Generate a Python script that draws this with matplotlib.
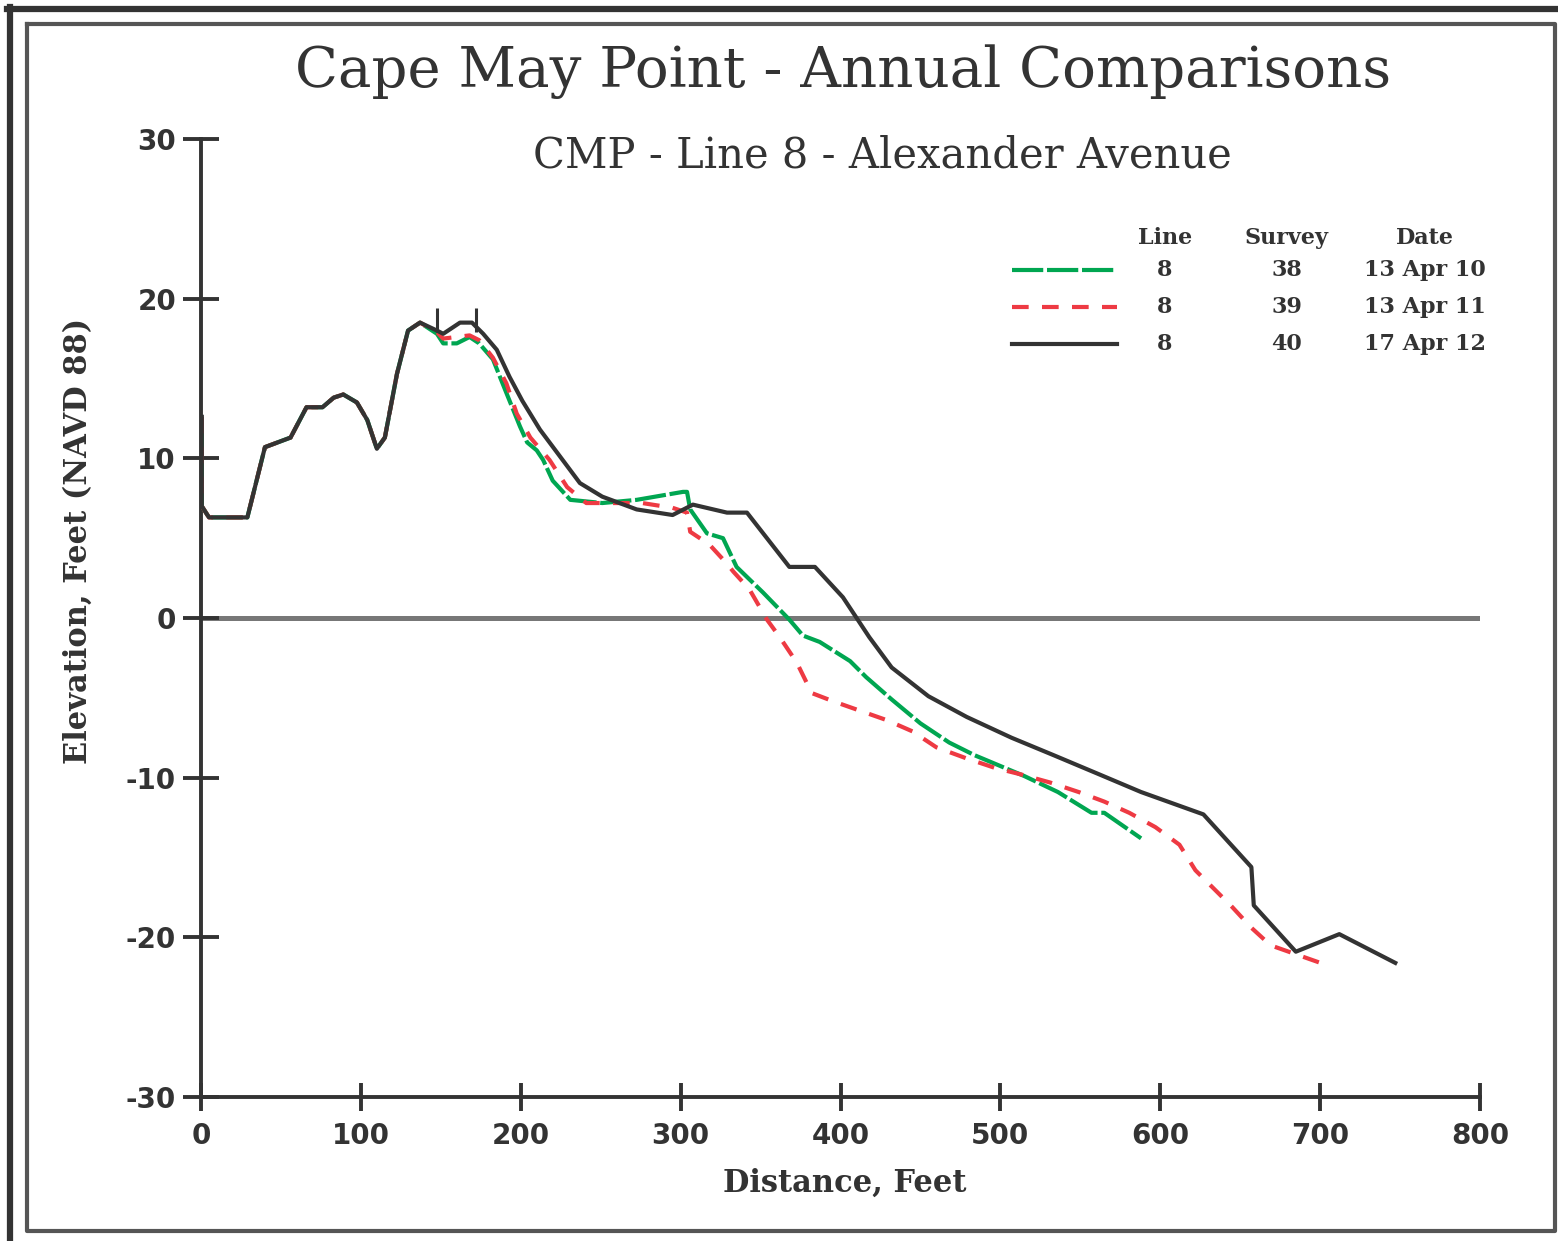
import matplotlib
matplotlib.use("Agg")
import matplotlib.pyplot as plt
from matplotlib.lines import Line2D

plt.rcParams["axes.unicode_minus"] = False

W, H = 1558, 1241
DPI = 100

# ---------------- data ----------------
common_x = [0.5, 0.5, 5, 29, 40, 56, 66, 76, 83, 89, 97.5, 104, 110, 115, 122.6, 129.5, 137]
common_y = [12.6, 7.0, 6.3, 6.3, 10.7, 11.3, 13.2, 13.2, 13.8, 14.0, 13.5, 12.4, 10.6, 11.3, 15.3, 18.0, 18.5]

s38_x = common_x + [147.6, 151.5, 160, 168, 174, 182.6, 191, 199.5, 204, 210, 214, 220, 231, 251,
                    272.5, 301.5, 304, 306, 316.5, 326.5, 335, 351.5, 368, 376.5, 387, 406, 416,
                    432, 450, 468, 484, 515, 536, 557, 565, 588]
s38_y = common_y + [17.8, 17.2, 17.2, 17.6, 17.2, 16.2, 14.1, 12.0, 11.0, 10.5, 9.9, 8.6, 7.4, 7.2,
                    7.4, 7.9, 7.9, 6.8, 5.3, 5.0, 3.2, 1.6, -0.1, -1.1, -1.5, -2.7, -3.7,
                    -5.1, -6.6, -7.8, -8.6, -9.9, -10.9, -12.2, -12.2, -13.8]

s39_x = common_x + [147.6, 151.5, 168, 174, 182.6, 191, 197.5, 206, 218, 229, 241, 276, 295, 304,
                    306, 318, 329, 333, 343, 354, 362, 372.7, 382, 395, 412, 429, 445, 460, 479,
                    497, 513, 531, 549, 565, 580.6, 597, 612, 622, 632, 645, 657, 669, 686, 703]
s39_y = common_y + [17.9, 17.5, 17.7, 17.4, 16.3, 14.7, 12.8, 11.3, 9.9, 8.2, 7.2, 7.2, 6.9, 6.6,
                    5.4, 4.6, 3.4, 2.9, 1.8, -0.1, -1.2, -2.8, -4.7, -5.2, -5.8, -6.4, -7.1, -8.1, -8.8,
                    -9.4, -9.8, -10.3, -10.9, -11.5, -12.2, -13.1, -14.2, -15.8, -16.8, -18.1, -19.4, -20.5, -21.1, -21.7]

s40_x = common_x + [147.6, 151.5, 162, 169.5, 176.5, 185, 193, 201, 212, 237, 251, 272.5, 295, 307.7,
                    329, 341.5, 368, 384, 401.5, 418, 432, 455, 479, 507, 533.5, 562, 588, 627,
                    657, 658.5, 684.8, 712, 747]
s40_y = common_y + [18.0, 17.8, 18.5, 18.5, 17.8, 16.8, 15.1, 13.6, 11.8, 8.45, 7.6, 6.8, 6.45, 7.1,
                    6.6, 6.6, 3.2, 3.2, 1.3, -1.2, -3.1, -4.9, -6.2, -7.5, -8.6, -9.8, -10.9, -12.3,
                    -15.6, -18.0, -20.9, -19.8, -21.6]

crest_x = [147.6, 172]
crest_y0, crest_y1 = 17.9, 19.4

legend_line = ["8", "8", "8"]
legend_survey = ["38", "39", "40"]
legend_date = ["13 Apr 10", "13 Apr 11", "17 Apr 12"]

x_ticks = [0, 100, 200, 300, 400, 500, 600, 700, 800]
y_ticks = [-30, -20, -10, 0, 10, 20, 30]

# ---------------- styles ----------------
DARK = "#333333"
GREEN = "#00a651"
RED = "#ee3a43"
styles = [
    dict(color=GREEN, lw=3.0, dashes=(7.5, 0.9)),
    dict(color=RED, lw=3.0, dashes=(4.0, 3.2)),
    dict(color=DARK, lw=3.0, ls="-"),
]

fig = plt.figure(figsize=(W / DPI, H / DPI), dpi=DPI)
fig.patch.set_facecolor("white")

def fx(px):
    return px / W

def fy(py):
    return 1 - py / H

ax = fig.add_axes([fx(201), fy(1097), fx(1480) - fx(201), fy(139) - fy(1097)])
ax.set_xlim(0, 800)
ax.set_ylim(-30, 30)

for s in ["top", "right"]:
    ax.spines[s].set_visible(False)
for s in ["left", "bottom"]:
    ax.spines[s].set_color(DARK)
    ax.spines[s].set_linewidth(2.8)

ax.axhline(0, xmin=0, xmax=1, color="#777777", lw=3.6, zorder=1)

series = [(s38_x, s38_y), (s39_x, s39_y), (s40_x, s40_y)]
for (xs, ys), st in zip(series, styles):
    kw = dict(st)
    dashes = kw.pop("dashes", None)
    ln, = ax.plot(xs, ys, solid_joinstyle="round", zorder=3, **kw)
    if dashes:
        ln.set_dashes(dashes)
        ln.set_dash_capstyle("butt")

ax.vlines(crest_x, crest_y0, crest_y1, color=DARK, lw=2.2, zorder=4)

ax.set_xticks(x_ticks)
ax.set_yticks(y_ticks)
ax.tick_params(axis="y", direction="inout", length=26, width=2.8, color=DARK, pad=5)
ax.tick_params(axis="x", direction="inout", length=20, width=2.8, color=DARK, pad=8)
for lab in ax.get_xticklabels() + ax.get_yticklabels():
    lab.set_fontfamily("DejaVu Sans")
    lab.set_fontweight("bold")
    lab.set_fontsize(20)
    lab.set_color(DARK)

serif = "DejaVu Serif"
fig.text(fx(843), fy(72), "Cape May Point - Annual Comparisons", ha="center", va="center",
         fontsize=40.5, family=serif, color=DARK)
fig.text(fx(882), fy(155), "CMP - Line 8 - Alexander Avenue", ha="center", va="center",
         fontsize=30, family=serif, color=DARK)
fig.text(fx(78), fy(541), "Elevation, Feet (NAVD 88)", ha="center", va="center", rotation=90,
         fontsize=22, family=serif, fontweight="bold", color=DARK)
fig.text(fx(845), fy(1183), "Distance, Feet", ha="center", va="center",
         fontsize=22, family=serif, fontweight="bold", color=DARK)

# ---------------- legend table ----------------
hdr_y = 238
row_y = [270, 307, 344]
col_x = [1165, 1287, 1425]
for cx, t in zip(col_x, ["Line", "Survey", "Date"]):
    fig.text(fx(cx), fy(hdr_y), t, ha="center", va="center", fontsize=16, family=serif,
             fontweight="bold", color=DARK)
for i, st in enumerate(styles):
    kw = dict(st)
    dashes = kw.pop("dashes", None)
    l = Line2D([fx(1012), fx(1117)], [fy(row_y[i])] * 2, transform=fig.transFigure, **kw)
    if dashes:
        l.set_dashes(dashes)
        l.set_dash_capstyle("butt")
    fig.add_artist(l)
    for cx, t in zip(col_x, [legend_line[i], legend_survey[i], legend_date[i]]):
        fig.text(fx(cx), fy(row_y[i]), t, ha="center", va="center", fontsize=16, family=serif,
                 fontweight="bold", color=DARK)

# ---------------- frame decoration ----------------
fig.add_artist(Line2D([fx(7), fx(1558)], [fy(9), fy(9)], transform=fig.transFigure, color=DARK, lw=4.5))
fig.add_artist(Line2D([fx(10), fx(10)], [fy(7), fy(1241)], transform=fig.transFigure, color=DARK, lw=4.5))
fig.add_artist(Line2D([fx(27), fx(1555), fx(1555), fx(27), fx(27)],
                      [fy(24), fy(24), fy(1231), fy(1231), fy(24)],
                      transform=fig.transFigure, color="#555555", lw=3.0))

fig.savefig("out.png", dpi=DPI, facecolor="white")
